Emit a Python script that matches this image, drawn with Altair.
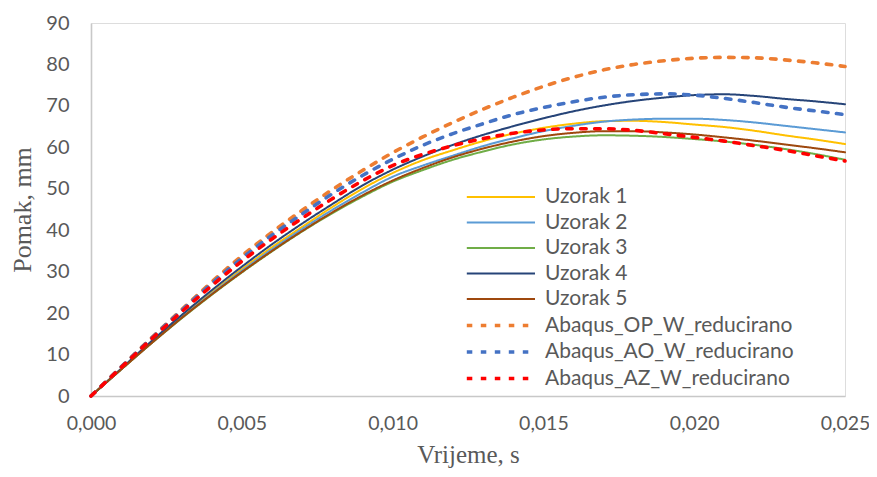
import altair as alt
import pandas as pd

time_s = [0.000, 0.001, 0.002, 0.003, 0.004, 0.005, 0.006, 0.007, 0.008, 0.009,
          0.010, 0.011, 0.012, 0.013, 0.014, 0.015, 0.016, 0.017, 0.018, 0.019,
          0.020, 0.021, 0.022, 0.023, 0.024, 0.025]

uzorak_1 = [0, 6.5, 13.0, 19.2, 25.0, 30.6, 35.9, 40.8, 45.6, 50.0, 53.8, 56.9, 59.3,
            61.5, 63.3, 64.7, 65.7, 66.3, 66.4, 66.1, 65.5, 64.9, 64.0, 62.9, 61.9, 60.8]
uzorak_2 = [0, 6.4, 12.8, 18.9, 24.7, 30.2, 35.4, 40.3, 44.9, 49.1, 52.9, 55.6, 58.0,
            60.3, 62.2, 63.9, 65.2, 66.2, 66.7, 66.9, 66.9, 66.6, 66.0, 65.2, 64.4, 63.6]
uzorak_3 = [0, 6.4, 12.7, 18.7, 24.4, 29.8, 34.9, 39.7, 44.1, 48.1, 51.7, 54.5, 57.0,
            59.0, 60.7, 61.9, 62.6, 62.9, 62.8, 62.5, 62.0, 61.4, 60.6, 59.6, 58.4, 57.0]
uzorak_4 = [0, 6.6, 13.2, 19.5, 25.5, 31.2, 36.6, 41.6, 46.3, 50.8, 54.6, 57.8, 60.6,
            63.0, 65.1, 67.0, 68.7, 70.1, 71.2, 72.0, 72.6, 72.8, 72.4, 71.7, 71.1, 70.4]
uzorak_5 = [0, 6.4, 12.7, 18.8, 24.5, 29.9, 35.0, 39.8, 44.3, 48.4, 52.0, 55.0, 57.6,
            59.7, 61.4, 62.7, 63.5, 63.9, 63.9, 63.6, 63.1, 62.4, 61.6, 60.7, 59.8, 58.8]
abaqus_op = [0, 7.0, 14.0, 20.8, 27.5, 33.8, 39.5, 44.8, 49.8, 54.4, 58.7, 62.5, 66.0,
             69.2, 72.1, 74.7, 76.9, 78.7, 80.0, 80.9, 81.5, 81.7, 81.6, 81.1, 80.4, 79.5]
abaqus_ao = [0, 7.0, 13.9, 20.6, 27.1, 33.2, 38.8, 43.9, 48.8, 53.2, 57.1, 60.5, 63.3,
             65.7, 67.9, 69.6, 71.0, 72.1, 72.7, 72.9, 72.6, 71.8, 70.8, 69.7, 68.8, 67.9]
abaqus_az = [0, 6.9, 13.7, 20.3, 26.6, 32.5, 37.9, 42.9, 47.6, 51.9, 55.6, 58.3, 60.4,
             62.1, 63.4, 64.2, 64.5, 64.5, 64.1, 63.3, 62.4, 61.5, 60.4, 59.3, 58.0, 56.7]

series_names = ["Uzorak 1", "Uzorak 2", "Uzorak 3", "Uzorak 4", "Uzorak 5",
                "Abaqus_OP_W_reducirano", "Abaqus_AO_W_reducirano", "Abaqus_AZ_W_reducirano"]
series_values = [uzorak_1, uzorak_2, uzorak_3, uzorak_4, uzorak_5,
                 abaqus_op, abaqus_ao, abaqus_az]
series_colors = ["#FFC000", "#5B9BD5", "#70AD47", "#264478", "#9E480E",
                 "#ED7D31", "#4472C4", "#FF0000"]
series_dashes = [[1, 0], [1, 0], [1, 0], [1, 0], [1, 0], [5.5, 8.5], [5.5, 8.5], [5.5, 8.5]]
series_widths = [2, 2, 2, 2, 2, 3.6, 3.6, 3.6]

x_ticks = [0.0, 0.005, 0.010, 0.015, 0.020, 0.025]
y_ticks = [0, 10, 20, 30, 40, 50, 60, 70, 80, 90]

rows = []
for i, (name, vals) in enumerate(zip(series_names, series_values)):
    for t, v in zip(time_s, vals):
        rows.append({"t": t, "y": v, "series": name, "k": i})
df = pd.DataFrame(rows)

# long horizontal legend line drawn by a custom symbol path (unit coords, scaled by sqrt(size)/2)
legend = alt.Legend(
    title=None, orient="none", legendX=420, legendY=162, padding=0,
    symbolType="M-5.2,0H1", symbolSize=484, labelFont="Lato", labelFontSize=21,
    labelColor="#595959", labelOffset=8, rowPadding=3.5, labelLimit=400,
)

gray = "#595959"
chart = alt.Chart(df).mark_line(
    interpolate="monotone", strokeCap="round", strokeJoin="round"
).encode(
    x=alt.X("t:Q", scale=alt.Scale(domain=[0, 0.025], nice=False, zero=False),
            axis=alt.Axis(values=x_ticks, title="Vrijeme, s",
                          labelExpr="replace(format(datum.value, '.3f'), '.', ',')",
                          labelFont="Lato", labelFontSize=19.5, labelColor=gray,
                          labelFlush=False, labelOverlap=False,
                          labelPadding=18, titleFont="Liberation Serif", titleFontSize=25,
                          titleFontWeight="normal", titleColor=gray, titlePadding=10,
                          ticks=False, grid=False, domainColor="#C8C8C8", domainWidth=1.6)),
    y=alt.Y("y:Q", scale=alt.Scale(domain=[0, 90], nice=False),
            axis=alt.Axis(values=y_ticks, title="Pomak, mm",
                          labelFont="Lato", labelFontSize=20, labelColor=gray,
                          labelFlush=False, labelOverlap=False,
                          labelPadding=22, titleFont="Liberation Serif", titleFontSize=26,
                          titleFontWeight="normal", titleColor=gray, titlePadding=10,
                          ticks=False, grid=False, domainColor="#C8C8C8", domainWidth=1.6)),
    color=alt.Color("series:N", scale=alt.Scale(domain=series_names, range=series_colors),
                    legend=legend),
    strokeDash=alt.StrokeDash("series:N", scale=alt.Scale(domain=series_names, range=series_dashes),
                              legend=legend),
    strokeWidth=alt.StrokeWidth("series:N", scale=alt.Scale(type="ordinal", domain=series_names,
                                                            range=series_widths),
                                legend=legend),
    order=alt.Order("t:Q"),
).properties(
    width=754, height=373,
    autosize=alt.AutoSizeParams(type="none"),
    padding={"left": 83, "top": 15, "right": 24, "bottom": 73},
).configure_view(stroke=None).configure(background="white")

chart.save("out.html", embed_options={"renderer": "svg", "actions": False})
